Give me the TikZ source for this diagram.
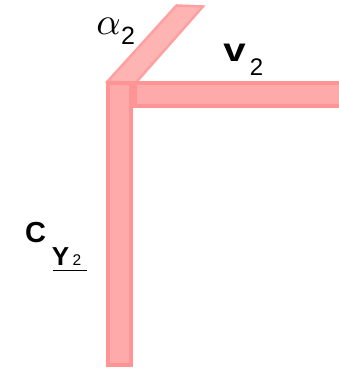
\documentclass[tikz,border=0pt]{standalone}
\usepackage{fontspec}
\setsansfont{Liberation Sans}
\begin{document}
\begin{tikzpicture}[x=1pt,y=1pt,
  lbl/.style={inner sep=0pt,anchor=base,font=\sffamily},
  bar/.style={fill={rgb,255:red,255;green,170;blue,170},draw={rgb,255:red,255;green,148;blue,148},line width=4pt},
  dbar/.style={fill={rgb,255:red,255;green,180;blue,180},draw={rgb,255:red,255;green,160;blue,160},line width=2.5pt,line join=miter}]
\useasboundingbox (0,0) rectangle (338,-369);
% diagonal bar
\draw[dbar] (107.5,-81.5) -- (135.5,-83) -- (203,-6.5) -- (176.5,-5.5) -- cycle;
% horizontal bar
\draw[bar] (135,-83) rectangle (342,-106);
% vertical bar
\draw[bar] (108,-83) rectangle (131,-365);
% labels
\node[inner sep=0pt,anchor=base,scale=3.8] (al) at (108.5,-34.5) {$\alpha$};
\node[lbl,font=\sffamily\fontsize{25}{25}\selectfont] (al2) at (128,-45) {2};
\node[lbl,font=\sffamily\bfseries\fontsize{33}{33}\selectfont,xscale=1.22] (v) at (234.5,-62) {v};
\node[lbl,font=\sffamily\fontsize{24}{24}\selectfont] (v2) at (256.5,-75.5) {2};
\node[lbl,font=\sffamily\bfseries\fontsize{29}{29}\selectfont] (c) at (35.5,-242) {C};
\node[lbl,font=\sffamily\bfseries\fontsize{26}{26}\selectfont] (y) at (60.5,-265.5) {Y};
\node[lbl,font=\sffamily\fontsize{15.5}{15.5}\selectfont] (y2) at (77,-265.5) {2};
\coordinate (ul1) at (53,-270);
\coordinate (ul2) at (87,-270);
\draw[line width=1pt] (ul1) -- (ul2);
\end{tikzpicture}
\end{document}
